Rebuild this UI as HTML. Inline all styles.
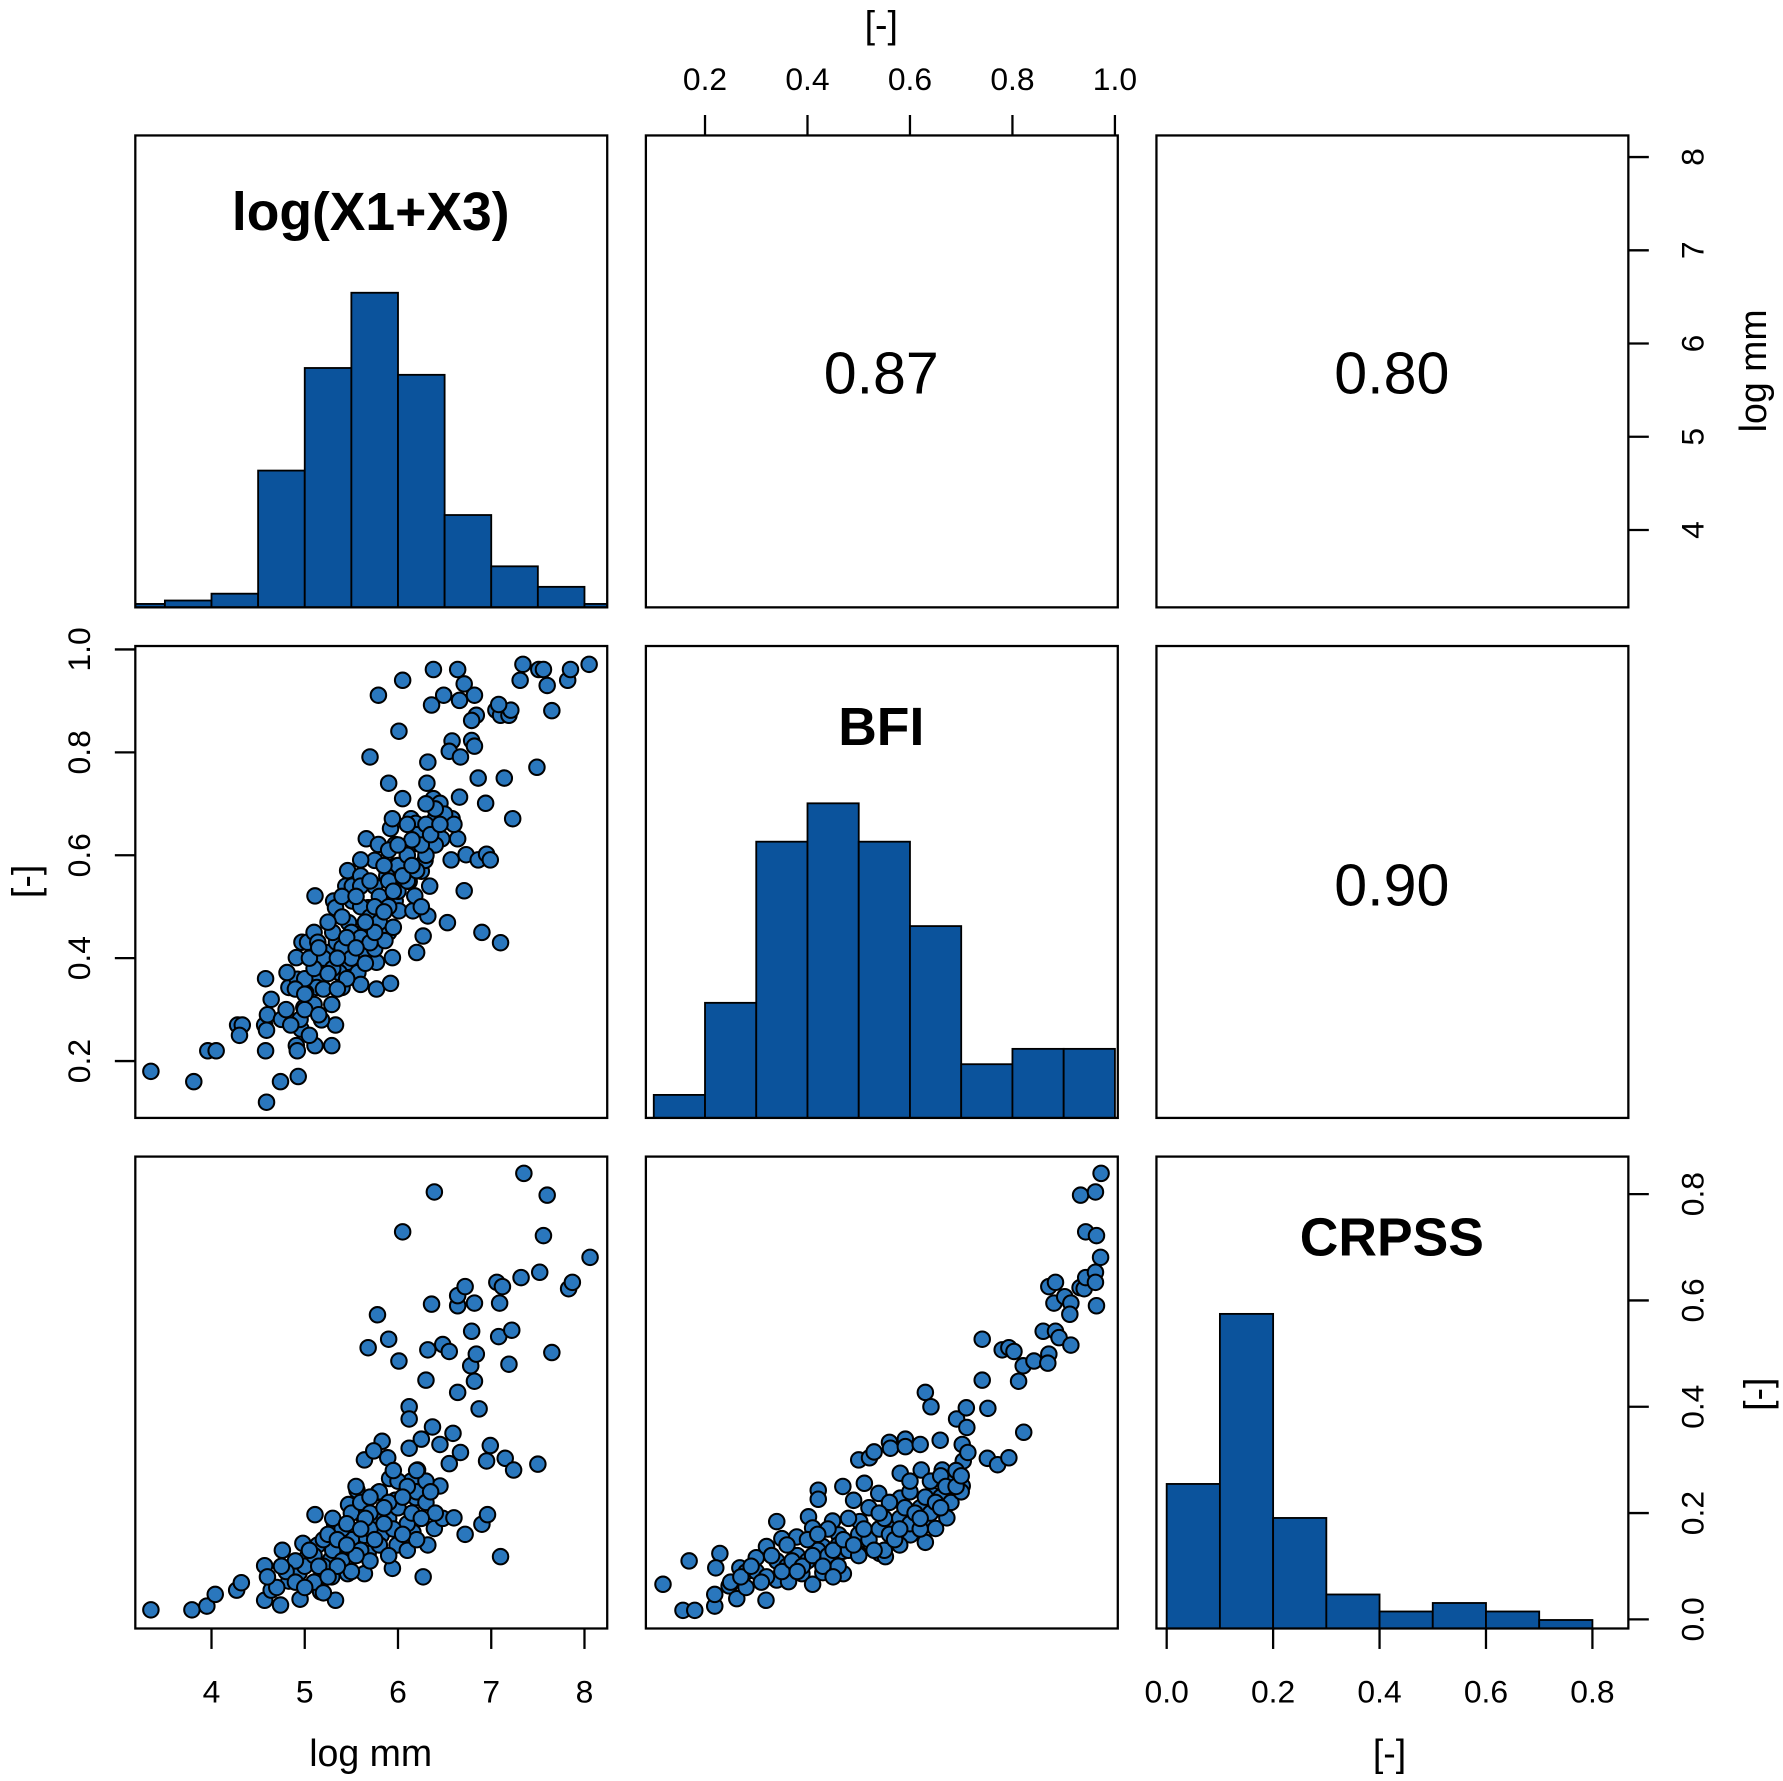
<!DOCTYPE html>
<html><head><meta charset="utf-8"><style>
html,body{margin:0;padding:0;background:#fff}
svg{display:block}
text{font-family:"Liberation Sans",Arial,sans-serif;fill:#000}
</style></head><body>
<svg id="chart" width="1783" height="1781" viewBox="0 0 1568 1566" xmlns="http://www.w3.org/2000/svg">
<defs>
<clipPath id="c11"><rect x="119" y="119" width="415" height="415"/></clipPath>
<clipPath id="c22"><rect x="568" y="568" width="415" height="415"/></clipPath>
<clipPath id="c33"><rect x="1017" y="1017" width="415" height="415"/></clipPath>
</defs>
<g id="hists"></g>
<g id="dots"></g>
<g id="frames" fill="none" stroke="#000" stroke-width="2"></g>
<g id="axes"></g>
<text x="326" y="202" font-size="47" font-weight="bold" text-anchor="middle">log(X1+X3)</text>
<text x="775" y="655" font-size="47" font-weight="bold" text-anchor="middle">BFI</text>
<text x="1224" y="1104" font-size="47" font-weight="bold" text-anchor="middle">CRPSS</text>
<text x="775" y="346" font-size="52" text-anchor="middle">0.87</text>
<text x="1224" y="346" font-size="52" text-anchor="middle">0.80</text>
<text x="1224" y="796" font-size="52" text-anchor="middle">0.90</text>
<text x="775" y="33" font-size="33" text-anchor="middle">[-]</text>
<text x="326" y="1553" font-size="33" text-anchor="middle">log mm</text>
<text x="1222" y="1553" font-size="33" text-anchor="middle">[-]</text>
<text transform="translate(34,775) rotate(-90)" font-size="33" text-anchor="middle">[-]</text>
<text transform="translate(1553,326) rotate(-90)" font-size="33" text-anchor="middle">log mm</text>
<text transform="translate(1557,1226) rotate(-90)" font-size="33" text-anchor="middle">[-]</text>
</svg>
<script>
// ---- data ----
const logBins = [3.0,3.5,4.0,4.5,5.0,5.5,6.0,6.5,7.0,7.5,8.0];
const logCounts = [1,2,4,40,70,92,68,27,12,6,1];
const bfiBins = [0.1,0.2,0.3,0.4,0.5,0.6,0.7,0.8,0.9];
const bfiCounts = [3,15,36,41,36,25,7,9,9];
const crpBins = [0.0,0.1,0.2,0.3,0.4,0.5,0.6,0.7,0.8];
const crpCounts = [34,74,26,8,4,6,4,2,0];
const logTicks = [4,5,6,7,8];
const bfiTicks = [0.2,0.4,0.6,0.8,1.0];
const crpTicks = [0.0,0.2,0.4,0.6,0.8];
const bfiTickLabels = ["0.2","0.4","0.6","0.8","1.0"];
const crpTickLabels = ["0.0","0.2","0.4","0.6","0.8"];
// panel: log mm (x) vs BFI (y)
const ptsLogBfi = [[3.35,0.18],[3.81,0.16],[3.96,0.22],[4.05,0.22],[4.28,0.27],[4.33,0.27],[4.30,0.25],[4.57,0.27],[4.59,0.26],[4.58,0.22],[4.58,0.36],[4.64,0.32],[4.60,0.29],[4.59,0.12],[4.74,0.16],[4.93,0.17],
[4.91,0.23],[4.92,0.22],[5.11,0.23],[5.29,0.23],[5.33,0.27],[5.18,0.28],[4.96,0.262],[4.95,0.281],[4.75,0.281],[4.99,0.304],[4.83,0.343],[4.92,0.359],[4.91,0.401],[4.81,0.372],[5.12,0.359],[5.13,0.343],[5.01,0.333],[5.16,0.385],[5.29,0.31],[5.40,0.343],[5.46,0.392],[5.37,0.372],[5.57,0.372],[5.60,0.349],[5.77,0.34],[5.92,0.351],[5.94,0.401],[5.77,0.392],
[4.97,0.431],[5.03,0.431],[5.10,0.45],[5.14,0.431],[5.23,0.411],[5.34,0.431],[5.47,0.469],[5.49,0.443],[5.62,0.45],[5.64,0.411],[5.83,0.459],[5.90,0.45],[5.75,0.418],[5.86,0.434],
[5.11,0.521],[5.31,0.511],[5.33,0.498],[5.51,0.511],[5.44,0.54],[5.51,0.54],[5.75,0.54],[5.68,0.498],[5.97,0.511],[6.01,0.492],[6.16,0.492],[6.18,0.521],[6.12,0.549],[6.25,0.569],[6.34,0.54],[6.32,0.482],[6.27,0.443],[6.20,0.411],[6.53,0.469],[6.71,0.531],[6.90,0.45],[7.10,0.43],
[5.46,0.57],[5.60,0.56],[5.75,0.59],[5.60,0.591],[5.88,0.571],[5.97,0.579],[6.05,0.579],[6.01,0.551],[5.88,0.56],
[5.66,0.632],[5.79,0.621],[5.97,0.621],[5.92,0.652],[5.94,0.671],[6.05,0.71],[6.14,0.671],[6.20,0.623],[6.19,0.662],[6.29,0.59],[6.31,0.623],[6.36,0.652],[6.40,0.671],[6.38,0.71],[6.45,0.701],[6.58,0.671],[6.66,0.713],[6.64,0.632],[6.47,0.632],[6.57,0.591],[6.73,0.601],[6.86,0.591],[6.95,0.602],[6.99,0.591],[6.94,0.701],[7.23,0.671],[7.49,0.771],[7.14,0.75],[6.86,0.75],[6.31,0.74],[6.32,0.781],[5.90,0.74],[6.01,0.841],[5.70,0.791],[5.79,0.911],[6.05,0.94],
[6.38,0.961],[6.64,0.961],[6.71,0.933],[6.49,0.911],[6.82,0.911],[6.36,0.892],[6.66,0.901],[6.84,0.872],[6.79,0.862],[6.58,0.822],[6.55,0.802],[6.67,0.791],[6.79,0.823],[6.82,0.812],[7.05,0.882],[7.10,0.872],[7.19,0.872],[7.21,0.882],[7.08,0.893],[7.34,0.971],[7.31,0.94],[7.51,0.961],[7.56,0.961],[7.60,0.93],[7.65,0.881],[7.82,0.94],[7.85,0.961],[8.05,0.971],
[5.2,0.40],[5.3,0.45],[5.4,0.48],[5.5,0.45],[5.6,0.50],[5.7,0.48],[5.8,0.52],[5.9,0.55],[6.0,0.58],[6.1,0.60],[6.2,0.64],[6.3,0.66],[6.4,0.62],[6.5,0.68],[5.3,0.38],[5.4,0.42],[5.5,0.40],[5.6,0.44],[5.7,0.43],[5.8,0.47],[5.9,0.50],[6.0,0.53],[6.1,0.55],[6.2,0.57],[6.3,0.60],[5.0,0.36],[5.1,0.31],[5.2,0.34],[5.0,0.30],[4.8,0.30],[4.9,0.34],[5.1,0.38],[5.4,0.52],[5.6,0.54],[5.9,0.61],[6.1,0.66],[6.4,0.69],[6.6,0.66],[5.45,0.36],[5.75,0.45],
[5.05,0.40],[5.15,0.42],[5.25,0.37],[5.35,0.40],[5.45,0.44],[5.55,0.42],[5.65,0.47],[5.75,0.50],[5.85,0.49],[5.95,0.53],[6.05,0.56],[6.15,0.58],[6.25,0.62],[6.35,0.64],[5.25,0.47],[5.55,0.52],[5.85,0.58],[6.15,0.63],[6.45,0.66],[5.0,0.33],[5.15,0.29],[5.35,0.34],[5.65,0.39],[5.95,0.46],[6.25,0.50],[4.85,0.27],[5.05,0.25],[5.7,0.55],[6.0,0.62],[6.3,0.70]];
// panel: log mm (x) vs CRPSS (y)
const ptsLogCrp = [[3.35,0.018],[3.79,0.018],[3.95,0.025],[4.04,0.047],[4.27,0.055],[4.32,0.069],[4.57,0.101],[4.57,0.036],[4.64,0.055],[4.74,0.027],[4.76,0.13],[4.83,0.072],[4.94,0.088],[4.95,0.038],[4.98,0.143],[5.03,0.118],[5.11,0.197],[5.13,0.072],[5.17,0.052],[5.14,0.14],[5.29,0.08],[5.33,0.036],[5.32,0.18],[5.28,0.113],[5.45,0.138],[5.46,0.086],[5.47,0.216],[5.56,0.243],[5.62,0.196],[5.64,0.158],[5.64,0.086],[5.68,0.124],[5.74,0.193],[5.79,0.239],[5.82,0.158],[5.83,0.335],[5.64,0.30],[5.74,0.317],[5.89,0.304],[5.91,0.265],[5.97,0.224],[5.94,0.096],[5.99,0.14],[6.05,0.729],[6.12,0.40],[6.12,0.377],[6.14,0.26],[6.19,0.229],[6.16,0.164],[6.21,0.281],[6.27,0.08],[6.32,0.14],[6.12,0.322],[6.25,0.339],[6.37,0.362],[6.45,0.329],[6.39,0.171],[6.48,0.19],[6.45,0.251],[6.55,0.293],[6.59,0.35],[6.67,0.314],[6.60,0.191],[6.72,0.16],[6.90,0.179],[6.96,0.197],[6.99,0.327],[6.95,0.298],[7.15,0.303],[7.24,0.281],[7.50,0.292],[7.10,0.118],[6.87,0.396],[6.64,0.427],[6.30,0.45],[6.82,0.448],[6.78,0.477],[6.84,0.499],[7.19,0.48],[6.01,0.486],[5.68,0.511],[5.90,0.527],[6.32,0.507],[6.48,0.517],[6.55,0.504],[6.79,0.542],[7.08,0.532],[7.22,0.544],[7.65,0.502],[5.78,0.573],[6.36,0.593],[6.64,0.59],[6.64,0.609],[6.72,0.626],[6.82,0.595],[7.09,0.595],[7.06,0.634],[7.12,0.626],[7.32,0.643],[7.52,0.653],[7.83,0.622],[7.87,0.634],[8.06,0.681],[7.56,0.722],[6.39,0.804],[7.35,0.839],[7.60,0.798],
[5.0,0.10],[5.1,0.12],[5.2,0.10],[5.3,0.13],[5.4,0.11],[5.5,0.15],[5.6,0.13],[5.7,0.17],[5.8,0.14],[5.9,0.19],[6.0,0.21],[6.1,0.18],[6.2,0.24],[6.3,0.22],[5.4,0.17],[5.5,0.20],[5.6,0.22],[5.7,0.20],[5.8,0.24],[5.9,0.22],[6.0,0.26],[6.1,0.25],[6.3,0.26],[5.2,0.15],[5.3,0.19],[4.9,0.11],[4.8,0.09],[4.7,0.06],[4.6,0.08],[5.1,0.07],[5.2,0.05],[5.5,0.09],[5.7,0.11],[5.9,0.12],[6.1,0.13],[6.2,0.15],[6.4,0.20],
[5.05,0.13],[5.15,0.10],[5.25,0.16],[5.35,0.10],[5.45,0.18],[5.55,0.12],[5.65,0.19],[5.75,0.15],[5.85,0.21],[5.95,0.17],[6.05,0.23],[6.15,0.20],[6.25,0.19],[6.35,0.24],[5.35,0.15],[5.6,0.17],[5.85,0.18],[6.05,0.16],[4.9,0.07],[5.0,0.06],[5.25,0.08],[5.45,0.14],[5.7,0.23],[5.95,0.28],[6.2,0.28],[4.75,0.10],[5.55,0.25]];
// panel: BFI (x) vs CRPSS (y)
const ptsBfiCrp = [[0.118,0.066],[0.157,0.017],[0.18,0.017],[0.169,0.11],[0.219,0.025],[0.219,0.047],[0.229,0.124],[0.221,0.097],[0.247,0.063],[0.268,0.097],[0.262,0.039],[0.28,0.089],[0.30,0.116],[0.319,0.036],[0.32,0.137],[0.33,0.12],[0.34,0.184],[0.35,0.152],[0.34,0.074],[0.36,0.101],[0.363,0.071],[0.379,0.155],[0.389,0.086],[0.402,0.193],[0.41,0.172],[0.41,0.066],[0.421,0.243],[0.421,0.226],[0.43,0.137],[0.43,0.088],[0.449,0.185],[0.461,0.159],[0.469,0.25],[0.47,0.086],[0.469,0.128],[0.49,0.224],[0.50,0.30],[0.502,0.184],[0.50,0.124],[0.511,0.256],[0.521,0.304],[0.53,0.315],[0.539,0.237],[0.541,0.171],[0.541,0.124],[0.552,0.118],[0.56,0.333],[0.562,0.322],[0.568,0.181],[0.581,0.275],[0.581,0.228],[0.591,0.339],[0.591,0.325],[0.593,0.191],[0.601,0.159],[0.62,0.329],[0.622,0.281],[0.63,0.427],[0.641,0.40],[0.63,0.145],[0.632,0.19],[0.643,0.234],[0.65,0.171],[0.659,0.337],[0.663,0.281],[0.671,0.26],[0.672,0.224],[0.672,0.191],[0.691,0.377],[0.702,0.329],[0.704,0.298],[0.702,0.251],[0.71,0.398],[0.711,0.361],[0.713,0.314],[0.741,0.527],[0.741,0.45],[0.752,0.397],[0.751,0.303],[0.771,0.291],[0.793,0.304],[0.78,0.507],[0.793,0.511],[0.803,0.504],[0.812,0.448],[0.821,0.477],[0.822,0.352],[0.842,0.486],[0.86,0.542],[0.871,0.499],[0.869,0.482],[0.884,0.542],[0.891,0.53],[0.914,0.516],[0.871,0.626],[0.884,0.634],[0.881,0.595],[0.902,0.607],[0.914,0.595],[0.912,0.574],[0.932,0.624],[0.94,0.622],[0.943,0.643],[0.962,0.653],[0.962,0.634],[0.964,0.59],[0.972,0.681],[0.943,0.729],[0.964,0.722],[0.933,0.798],[0.962,0.804],[0.973,0.839],
[0.25,0.07],[0.28,0.06],[0.30,0.09],[0.32,0.08],[0.34,0.11],[0.36,0.10],[0.38,0.12],[0.40,0.11],[0.42,0.13],[0.44,0.12],[0.46,0.14],[0.48,0.13],[0.50,0.16],[0.52,0.15],[0.54,0.17],[0.56,0.16],[0.58,0.19],[0.60,0.18],[0.62,0.21],[0.64,0.20],[0.66,0.23],[0.68,0.22],[0.70,0.24],[0.48,0.19],[0.52,0.21],[0.56,0.22],[0.60,0.24],[0.64,0.26],[0.44,0.17],[0.40,0.15],[0.36,0.14],[0.33,0.12],[0.46,0.10],[0.50,0.12],[0.55,0.13],[0.58,0.14],[0.62,0.17],[0.66,0.27],[0.69,0.28],
[0.27,0.08],[0.29,0.10],[0.31,0.07],[0.35,0.09],[0.37,0.11],[0.39,0.10],[0.41,0.12],[0.43,0.10],[0.45,0.13],[0.47,0.15],[0.49,0.14],[0.51,0.17],[0.53,0.13],[0.55,0.19],[0.57,0.15],[0.59,0.21],[0.61,0.20],[0.63,0.23],[0.65,0.22],[0.67,0.25],[0.69,0.25],[0.54,0.20],[0.58,0.17],[0.62,0.19],[0.66,0.21],[0.42,0.16],[0.38,0.09],[0.45,0.08],[0.70,0.27],[0.60,0.26]];

// ---- axis functions ----
const NS = "http://www.w3.org/2000/svg";
const P = [119, 568, 1017], S = 415;
const xLog = v => 186 + (v - 4) * 82;
const yLog = v => 466 - (v - 4) * 82;
const xBfi = v => 620 + (v - 0.2) * 450.6;
const yBfi = v => 933 - (v - 0.2) * 452.5;
const xCrp = v => 1026 + v * 468;
const yCrp = v => 1424 - v * 467.5;

function mk(tag, attrs, parent) {
  const e = document.createElementNS(NS, tag);
  for (const k in attrs) e.setAttribute(k, attrs[k]);
  parent.appendChild(e);
  return e;
}
const hists = document.getElementById('hists');
const dots = document.getElementById('dots');
const frames = document.getElementById('frames');
const axes = document.getElementById('axes');

function drawHist(bins, counts, xf, panel, clip, name) {
  const g = mk('g', {'clip-path': 'url(#' + clip + ')'}, hists);
  const max = Math.max(...counts);
  const base = P[panel] + S;
  const w = bins[1] - bins[0];
  for (let i = 0; i < bins.length; i++) {
    const x0 = xf(bins[i]), x1 = xf(bins[i] + w);
    const h = counts[i] / max * (S / 1.5);
    const r = mk('rect', {x: x0, y: base - h, width: x1 - x0, height: h, fill: '#0b539c', stroke: '#000', 'stroke-width': 1.6}, g);
    
    
  }
}
drawHist(logBins, logCounts, xLog, 0, 'c11', 'hist-logx');
drawHist(bfiBins, bfiCounts, xBfi, 1, 'c22', 'hist-bfi');
drawHist(crpBins, crpCounts, xCrp, 2, 'c33', 'hist-crpss');

function drawDots(pts, xf, yf, name) {
  for (const p of pts) {
    const c = mk('circle', {cx: xf(p[0]), cy: yf(p[1]), r: 6.8, fill: '#2a77bd', stroke: '#000', 'stroke-width': 1.8}, dots);
    
    
  }
}
drawDots(ptsLogBfi, xLog, yBfi, 'logx-bfi');
drawDots(ptsLogCrp, xLog, yCrp, 'logx-crpss');
drawDots(ptsBfiCrp, xBfi, yCrp, 'bfi-crpss');

for (let r = 0; r < 3; r++) for (let c = 0; c < 3; c++) {
  const f = mk('rect', {x: P[c], y: P[r], width: S, height: S}, frames);
  
  
}

function axis(ticks, labels, pos, side, at, name) {
  const g = mk('g', {stroke: '#000', 'stroke-width': 2}, axes);
  
  
  const T = 18;
  for (let i = 0; i < ticks.length; i++) {
    const p = pos(ticks[i]);
    let t;
    if (side === 'top') { mk('line', {x1: p, x2: p, y1: at, y2: at - T}, g); t = mk('text', {x: p, y: at - 40, 'font-size': 28, 'text-anchor': 'middle', stroke: 'none'}, g); }
    if (side === 'bottom') { mk('line', {x1: p, x2: p, y1: at, y2: at + T}, g); t = mk('text', {x: p, y: at + 65, 'font-size': 28, 'text-anchor': 'middle', stroke: 'none'}, g); }
    if (side === 'left') { mk('line', {y1: p, y2: p, x1: at, x2: at - T}, g); t = mk('text', {transform: 'translate(' + (at - 40) + ',' + p + ') rotate(-90)', 'font-size': 28, 'text-anchor': 'middle', stroke: 'none'}, g); }
    if (side === 'right') { mk('line', {y1: p, y2: p, x1: at, x2: at + T}, g); t = mk('text', {transform: 'translate(' + (at + 66) + ',' + p + ') rotate(-90)', 'font-size': 28, 'text-anchor': 'middle', stroke: 'none'}, g); }
    t.textContent = labels[i];
    
    
  }
}
axis(bfiTicks, bfiTickLabels, xBfi, 'top', 119, 'top-axis-bfi');
axis(logTicks, logTicks.map(String), yLog, 'right', 1432, 'right-axis-logmm');
axis(bfiTicks, bfiTickLabels, yBfi, 'left', 119, 'left-axis-bfi');
axis(logTicks, logTicks.map(String), xLog, 'bottom', 1432, 'bottom-axis-logmm');
axis(crpTicks, crpTickLabels, xCrp, 'bottom', 1432, 'bottom-axis-crpss');
axis(crpTicks, crpTickLabels, yCrp, 'right', 1432, 'right-axis-crpss');
</script>
</body></html>
